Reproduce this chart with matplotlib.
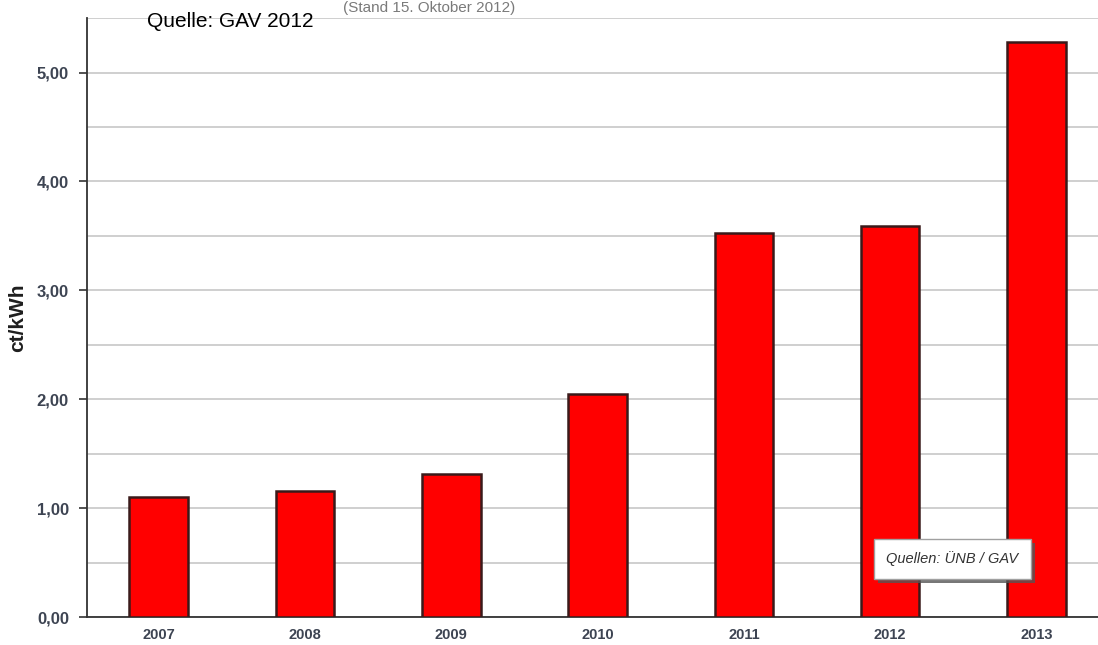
import matplotlib
matplotlib.use("Agg")
import matplotlib.pyplot as plt
import matplotlib.patheffects as pe

years = ["2007", "2008", "2009", "2010", "2011", "2012", "2013"]
umlage = [1.10, 1.16, 1.31, 2.05, 3.53, 3.59, 5.28]
yticks = [0, 1, 2, 3, 4, 5]
ytick_labels = ["0,00", "1,00", "2,00", "3,00", "4,00", "5,00"]

plt.rcParams["font.family"] = ["Liberation Sans", "DejaVu Sans"]

fig = plt.figure(figsize=(10.98, 6.45), dpi=100)
ax = fig.add_axes([0.0792, 0.0434, 0.9208, 0.9286])

x = range(len(years))
ax.bar(x, umlage, width=0.4, color="#ff0000", edgecolor="#3a1a1a", linewidth=1.8, zorder=3)

ax.set_xlim(-0.49, 6.42)
ax.set_ylim(0, 5.5)
ax.set_yticks(yticks)
ax.set_yticklabels(ytick_labels)
ax.set_yticks([0.5, 1.5, 2.5, 3.5, 4.5, 5.5], minor=True)
ax.set_xticks(list(x))
ax.set_xticklabels(years)

ax.grid(axis="y", which="both", color="#cccccc", linewidth=1.3, zorder=0)
ax.tick_params(axis="y", which="major", length=6, width=1.2, color="#333333",
               labelsize=12, labelcolor="#3d4452", pad=7)
ax.tick_params(axis="y", which="minor", length=0)
ax.tick_params(axis="x", length=0, labelsize=10.5, labelcolor="#3d4452", pad=8)
for lab in ax.get_yticklabels() + ax.get_xticklabels():
    lab.set_fontweight("bold")

for side in ["top", "right"]:
    ax.spines[side].set_visible(False)
ax.spines["left"].set_color("#333333")
ax.spines["left"].set_linewidth(1.3)
ax.spines["bottom"].set_color("#333333")
ax.spines["bottom"].set_linewidth(1.3)

fig.text(0.0165, 0.507, "ct/kWh", rotation=90, fontsize=15, fontweight="bold",
         color="#1e1e1e", ha="center", va="center")

fig.text(0.391, 0.999, "(Stand 15. Oktober 2012)", fontsize=11, color="#7a7a7a",
         ha="center", va="top")

fig.text(0.134, 0.966, "Quelle: GAV 2012", fontsize=15, color="#000000",
         ha="left", va="center")

# source box with drop shadow
ax.text(5.425, 0.533, "Quellen: ÜNB / GAV", fontsize=10.5, fontstyle="italic",
        color="#333333", ha="center", va="center", zorder=6,
        bbox=dict(boxstyle="square,pad=0.85", facecolor="white", edgecolor="#a0a0a0",
                  linewidth=1.0,
                  path_effects=[pe.withSimplePatchShadow(offset=(3, -3),
                                                         shadow_rgbFace="#555555",
                                                         alpha=0.8)]))

fig.savefig("out.png", dpi=100)
